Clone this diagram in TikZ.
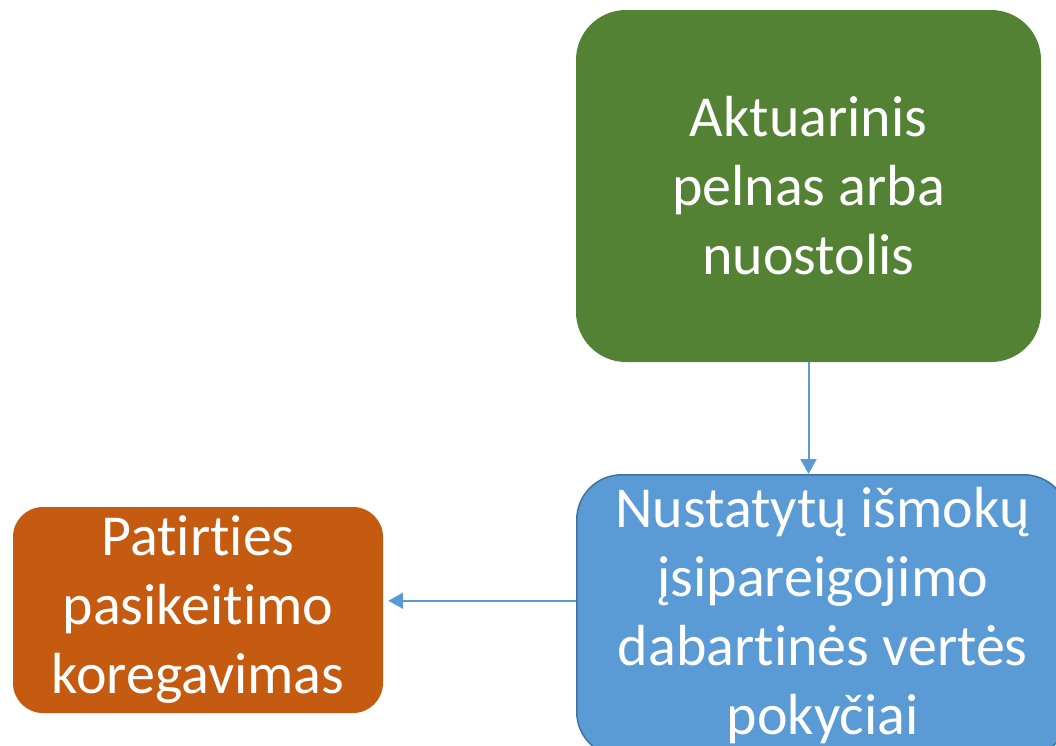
\documentclass[tikz,border=0pt]{standalone}
\usepackage{fontspec}
\setmainfont{Carlito}[RawFeature={-liga}]
\usetikzlibrary{positioning, arrows.meta}

\definecolor{boxgreen}{HTML}{548235}
\definecolor{boxblue}{HTML}{5B9BD5}
\definecolor{edgeblue}{HTML}{41719C}
\definecolor{boxorange}{HTML}{C55A11}

\begin{document}
\begin{tikzpicture}[x=1pt, y=-1pt,
		box/.style={inner sep=0pt, align=center, text=white, font=\fontsize{58}{69}\selectfont},
		link/.style={draw=boxblue, line width=2pt, -{Triangle[length=15pt, width=16pt]}}]
			% Canvas
			\clip (0,0) rectangle (1056,745);
			\useasboundingbox (0,0) rectangle (1056,745);
			
			% Boxes
			\node[box, fill=boxgreen, minimum width=465pt, minimum height=352pt, rounded corners=50pt] (gain) at (808.5,186) {Aktuarinis\\pelnas arba\\nuostolis};
			\node[box, fill=boxblue, draw=edgeblue, line width=1.5pt, minimum width=492pt, minimum height=282pt, rounded corners=45pt, anchor=north west] (change) at (576,474) {Nustatytų išmokų\\įsipareigojimo\\dabartinės vertės\\pokyčiai};
			\node[box, fill=boxorange, minimum width=370pt, minimum height=206pt, rounded corners=30pt] (adjust) at (198,610) {Patirties\\pasikeitimo\\koregavimas};
			
			% Connectors
			\draw[link] (gain.south) -- (gain.south |- change.north);
			\draw[link, shorten >=5pt] ([yshift=15pt]change.west) -- ([yshift=15pt]change.west -| adjust.east);
		\end{tikzpicture}
\end{document}
